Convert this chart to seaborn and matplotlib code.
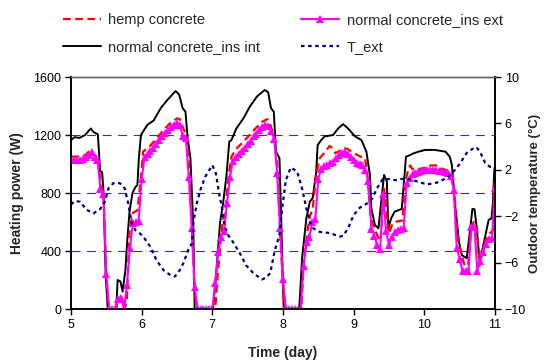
import matplotlib
matplotlib.use("Agg")
import matplotlib.pyplot as plt
import seaborn as sns

# ---------------- data ----------------
# normal concrete_ins int (W)
int_day = [5.00, 5.05, 5.12, 5.20, 5.28, 5.32, 5.38, 5.40, 5.41, 5.44, 5.46, 5.49, 5.52, 5.64, 5.66, 5.70, 5.73,
           5.77, 5.80, 5.83, 5.87, 5.91, 5.94, 5.96, 5.99, 6.08, 6.17, 6.27, 6.36, 6.48, 6.53, 6.58, 6.62, 6.65,
           6.69, 6.73, 6.75, 7.01, 7.06, 7.11, 7.15, 7.20, 7.24, 7.27, 7.34, 7.44, 7.53, 7.63, 7.74, 7.79, 7.83,
           7.87, 7.90, 7.95, 7.97, 8.01, 8.23, 8.27, 8.33, 8.38, 8.42, 8.47, 8.49, 8.54, 8.59, 8.71, 8.78, 8.85,
           8.92, 9.02, 9.11, 9.18, 9.23, 9.25, 9.30, 9.35, 9.39, 9.43, 9.47, 9.49, 9.53, 9.58, 9.68, 9.72, 9.74,
           9.80, 9.85, 9.92, 10.01, 10.15, 10.30, 10.36, 10.39, 10.44, 10.49, 10.53, 10.60, 10.65, 10.68, 10.71,
           10.74, 10.78, 10.81, 10.86, 10.91, 10.95, 10.97, 10.99, 11.00]
int_w = [1165, 1185, 1180, 1200, 1245, 1220, 1205, 1050, 950, 945, 810, 240, 0, 0, 200, 190, 120,
         270, 500, 680, 800, 840, 855, 1040, 1200, 1270, 1300, 1385, 1440, 1503, 1480, 1385, 1360, 1180,
         1040, 580, 0, 0, 280, 600, 720, 920, 1155, 1165, 1245, 1315, 1395, 1465, 1510, 1495, 1385,
         1360, 1085, 1040, 690, 0, 0, 350, 625, 740, 765, 945, 1130, 1165, 1190, 1200, 1245, 1275,
         1245, 1190, 1165, 1085, 925, 695, 580, 556, 740, 924, 878, 556, 625, 671, 690, 924, 1050,
         1062, 1074, 1085, 1097, 1097, 1085, 1050, 993, 694, 464, 372, 350, 556, 690, 688,
         568, 338, 384, 499, 614, 625, 729, 959, 982]

# hemp concrete (W)
hemp_day = [5.00, 5.10, 5.20, 5.28, 5.33, 5.39, 5.42, 5.46, 5.50, 5.53, 5.64, 5.67, 5.71, 5.76, 5.79, 5.83,
            5.88, 5.94, 5.99, 6.02, 6.12, 6.21, 6.31, 6.41, 6.50, 6.54, 6.59, 6.63, 6.67, 6.71, 6.75, 6.78,
            7.04, 7.08, 7.12, 7.15, 7.18, 7.22, 7.27, 7.33, 7.40, 7.50, 7.60, 7.70, 7.78, 7.82, 7.87, 7.92,
            7.97, 8.02, 8.26, 8.29, 8.34, 8.38, 8.42, 8.47, 8.52, 8.60, 8.66, 8.70, 8.74, 8.80, 8.85, 8.91,
            9.00, 9.10, 9.16, 9.19, 9.24, 9.29, 9.34, 9.38, 9.43, 9.47, 9.50, 9.55, 9.62, 9.69, 9.73, 9.78,
            9.80, 9.83, 9.92, 10.02, 10.04, 10.20, 10.23, 10.33, 10.38, 10.42, 10.48, 10.53, 10.57, 10.62,
            10.66, 10.70, 10.74, 10.78, 10.81, 10.86, 10.92, 10.97, 10.99, 11.00]
hemp_w = [1050, 1052, 1060, 1100, 1060, 1045, 850, 800, 250, 0, 0, 85, 85, 0, 60, 560,
          665, 680, 900, 1085, 1125, 1175, 1235, 1285, 1315, 1310, 1245, 1200, 990, 600, 120, 0,
          0, 260, 470, 620, 640, 880, 1050, 1100, 1135, 1185, 1240, 1290, 1310, 1270, 1200, 980,
          420, 0, 0, 290, 520, 640, 690, 930, 1040, 1085, 1125, 1110, 1075, 1090, 1110, 1105,
          1075, 1050, 1040, 950, 640, 560, 500, 470, 830, 640, 520, 590, 605, 610, 880, 975,
          990, 965, 965, 975, 990, 990, 970, 955, 935, 830, 470, 370, 300, 300,
          570, 600, 580, 300, 360, 470, 520, 540, 860, 880]

# normal concrete_ins ext (W), hourly values from day 5 to day 11
ext_day = [5 + h / 24 for h in range(145)]
ext_w = [1025, 1030, 1025, 1030, 1035, 1045, 1065, 1085, 1045, 1030, 830, 790, 240, 0, 0, 0, 70, 75, 0, 165, 420, 590, 600, 610,
         900, 1045, 1070, 1090, 1110, 1140, 1165, 1190, 1215, 1235, 1255, 1272, 1280, 1270, 1190, 1180, 910, 560, 150, 0, 0, 0, 0, 0,
         0, 180, 390, 500, 540, 730, 910, 1020, 1050, 1070, 1090, 1110, 1140, 1160, 1190, 1210, 1235, 1255, 1270, 1262, 1230, 1175, 940, 560,
         210, 0, 0, 0, 0, 0, 0, 300, 460, 500, 600, 620, 900, 965, 985, 995, 1005, 1015, 1040, 1060, 1075, 1085, 1070, 1050,
         1030, 1010, 1000, 995, 960, 880, 555, 505, 440, 415, 790, 540, 440, 500, 530, 545, 550, 556, 870, 905, 930, 940, 948, 955,
         958, 960, 962, 962, 960, 955, 950, 945, 935, 915, 820, 420, 345, 262, 260, 262, 568, 568, 265, 330, 395, 450, 480, 490,
         835]

# T_ext (deg C)
t_day = [5.00, 5.05, 5.13, 5.22, 5.32, 5.41, 5.48, 5.53, 5.60, 5.69, 5.76, 5.81, 5.86, 5.91, 5.95, 6.02, 6.12,
         6.21, 6.31, 6.40, 6.47, 6.54, 6.59, 6.66, 6.71, 6.73, 6.78, 6.83, 6.90, 6.97, 7.00, 7.05, 7.10, 7.13,
         7.17, 7.22, 7.29, 7.39, 7.48, 7.58, 7.70, 7.76, 7.82, 7.88, 7.95, 7.99, 8.04, 8.11, 8.20, 8.27, 8.33,
         8.38, 8.43, 8.52, 8.66, 8.80, 8.85, 8.92, 9.00, 9.09, 9.19, 9.26, 9.33, 9.41, 9.50, 9.60, 9.71, 9.85,
         9.94, 10.05, 10.18, 10.32, 10.42, 10.50, 10.60, 10.68, 10.74, 10.80, 10.86, 10.93, 11.00]
t_val = [-1.0, -0.7, -0.75, -1.45, -1.75, -1.4, -0.75, 0.4, 0.85, 0.85, 0.4, -0.9, -2.6, -3.2, -3.35, -3.75, -4.6,
         -5.8, -6.65, -7.05, -7.2, -6.65, -6.05, -4.9, -4.35, -2.6, -0.9, 0.25, 1.4, 2.1, 2.4, 1.7, -0.2, -1.05,
         -2.75, -3.6, -4.2, -5.2, -6.25, -6.9, -7.45, -7.3, -6.9, -5.05, -3.6, -1.25, 1.1, 2.2, 1.85, 0.4, -1.3,
         -2.5, -3.05, -3.35, -3.45, -3.75, -3.7, -3.05, -1.9, -1.25, -0.9, -0.5, 0.4, 1.2, 1.2, 1.1, 1.25, 1.1,
         0.9, 0.75, 0.9, 1.3, 1.9, 2.5, 3.45, 3.8, 3.95, 3.4, 2.6, 2.25, 2.25]

x_ticks = [5, 6, 7, 8, 9, 10, 11]
w_ticks = [0, 400, 800, 1200, 1600]
t_ticks = [-10, -6, -2, 2, 6, 10]

labels = ["hemp concrete", "normal concrete_ins int", "normal concrete_ins ext", "T_ext"]

# ---------------- plot ----------------
sns.set_style("ticks")
plt.rcParams["font.family"] = ["Liberation Sans", "DejaVu Sans"]

fig = plt.figure(figsize=(5.44, 3.61), dpi=100)
ax = fig.add_axes([71 / 544, 52 / 361, 424 / 544, 232 / 361])

sns.lineplot(x=int_day, y=int_w, ax=ax, color="black", lw=1.4, sort=False,
             errorbar=None, legend=False, label=labels[1], zorder=3)
sns.lineplot(x=hemp_day, y=hemp_w, ax=ax, color="#FF0000", lw=1.6, sort=False,
             linestyle=(0, (3.5, 2.0)), errorbar=None, legend=False, label=labels[0], zorder=4)
sns.lineplot(x=ext_day, y=ext_w, ax=ax, color="#FF00FF", lw=1.5, sort=False,
             marker="^", markersize=6, markeredgewidth=0, errorbar=None, legend=False,
             label=labels[2], zorder=5)

ax.set_xlim(5, 11)
ax.set_ylim(0, 1600)
ax.set_xticks(x_ticks)
ax.set_yticks(w_ticks)
ax.set_axisbelow(True)
ax.yaxis.grid(True, color="#33339a", lw=0.8, linestyle=(0, (8, 6)))
ax.xaxis.grid(False)
glines = ax.get_ygridlines()
glines[0].set_visible(False)
glines[-1].set_visible(False)

ax2 = ax.twinx()
sns.lineplot(x=t_day, y=t_val, ax=ax2, color="#000080", lw=1.6, sort=False,
             linestyle=(0, (1.6, 1.6)), errorbar=None, legend=False, label=labels[3])
ax2.set_ylim(-10, 10)
ax2.set_yticks(t_ticks)
ax2.grid(False)

for a in (ax, ax2):
    for s in ("left", "right", "bottom"):
        a.spines[s].set_color("black")
        a.spines[s].set_linewidth(1.2)
    a.spines["top"].set_color("#666666")
    a.spines["top"].set_linewidth(1.0)
    a.tick_params(axis="both", direction="out", length=4, width=1, labelsize=9,
                  colors="black", pad=3)

ax.set_xlabel("Time (day)", fontsize=10, fontweight="bold")
ax.set_ylabel("Heating power (W)", fontsize=10, fontweight="bold")
ax2.set_ylabel("Outdoor temperature (\u00b0C)", fontsize=9.5, fontweight="bold")
ax.xaxis.set_label_coords(0.5, -0.16)
ax.yaxis.set_label_coords(-0.11, 0.5)
ax2.yaxis.set_label_coords(1.081, 0.5)

h = {l.get_label(): l for l in ax.get_lines() + ax2.get_lines()}
handles = [h[l] for l in labels]
fig.legend(handles, labels, ncol=2, loc="center", bbox_to_anchor=(0.52, 0.907),
           frameon=False, fontsize=10.5, handlelength=2.6, handletextpad=0.5,
           columnspacing=2.8, labelspacing=0.9, numpoints=1)

fig.savefig("out.png", dpi=100)
